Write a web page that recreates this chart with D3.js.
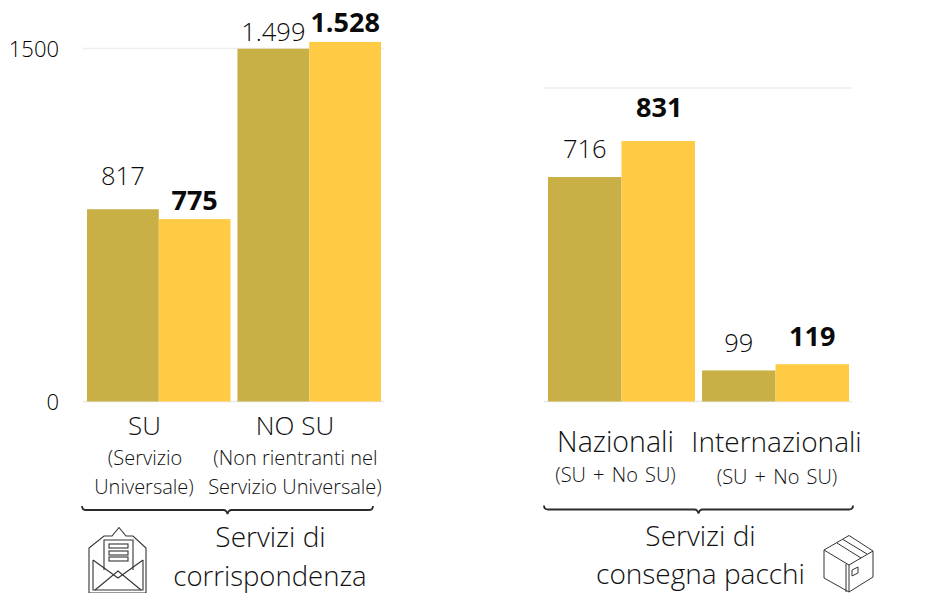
<!DOCTYPE html>
<html><head><meta charset="utf-8">
<script src="https://cdn.jsdelivr.net/npm/d3@7"></script>
<style>html,body{margin:0;padding:0;background:#fff}svg{display:block}text{font-family:"Open Sans",sans-serif;fill:#111;font-weight:300}</style>
</head><body><svg id="c" width="937" height="593"></svg>
<script>
const mailCategories=["SU","NO SU"];
const parcelCategories=["Nazionali","Internazionali"];
const seriesNames=["prev","curr"];
const mailPrev=[817,1499];
const mailCurr=[775,1528];
const parcelPrev=[716,99];
const parcelCurr=[831,119];
const seriesColors=["#C8AF46","#FFCB45"];
const yTicks=[0,1500];
const labelGaps={817:24,775:9,1499:8,1528:10,716:19.5,831:24,99:18,119:18.5};
const fmt=v=>v>=1000?String(v).replace(/(\d)(\d{3})$/,"$1.$2"):String(v);
const svg=d3.select("#c");
const base=401.5;

function panel(cats,prev,curr,xr,yScale,gridV){
  const x=d3.scaleBand().domain(cats).range(xr).paddingInner(0.046).paddingOuter(0);
  const xi=d3.scaleBand().domain(seriesNames).range([0,x.bandwidth()]);
  const gl=[xr[0]-4,xr[1]+3];
  svg.append("line").attr("x1",gl[0]).attr("x2",gl[1]).attr("y1",yScale(gridV)).attr("y2",yScale(gridV)).attr("stroke","#eeeeee").attr("stroke-width",1.3);
  svg.append("line").attr("x1",gl[0]).attr("x2",gl[1]).attr("y1",base).attr("y2",base).attr("stroke","#e8e8e8").attr("stroke-width",1.3);
  cats.forEach((c,i)=>{
    [prev[i],curr[i]].forEach((v,k)=>{
      const bx=x(c)+xi(seriesNames[k]);
      svg.append("rect").attr("x",bx).attr("y",yScale(v)).attr("width",xi.bandwidth()).attr("height",yScale(0)-yScale(v)).attr("fill",seriesColors[k]);
      svg.append("text").attr("x",bx+xi.bandwidth()/2+(v===831?1:0)).attr("y",yScale(v)-labelGaps[v]).attr("text-anchor","middle")
        .style("font-size",k?"27px":"25.5px").style("font-weight",k?700:300).style("fill",k?"#0a0a0a":"#0a0a0a").text(fmt(v));
    });
  });
}
const yL=d3.scaleLinear().domain([0,1500]).range([base,48.5]);
const yR=d3.scaleLinear().domain([0,1000]).range([base,88]);
panel(mailCategories,mailPrev,mailCurr,[87,381],yL,1500);
panel(parcelCategories,parcelPrev,parcelCurr,[548,849],yR,1000);

yTicks.forEach(t=>svg.append("text").attr("x",59).attr("y",yL(t)+8).attr("text-anchor","end").style("font-size","22px").style("fill","#000").text(t));

function txt(x,y,s,size,ws){const t=svg.append("text").attr("x",x).attr("y",y).attr("text-anchor","middle").style("font-size",size+"px").text(s);if(ws)t.style("word-spacing",ws+"px");}
txt(144.5,435,"SU",26);
txt(145,465,"(Servizio",20);
txt(144,494,"Universale)",20);
txt(295,435,"NO SU",26);
txt(295.5,465,"(Non rientranti nel",20);
txt(295,494,"Servizio Universale)",20);
txt(615.5,452,"Nazionali",28.5);
txt(615.5,482,"(SU + No SU)",20,2);
txt(776.5,452,"Internazionali",28);
txt(777,484,"(SU + No SU)",20,2);
txt(270.5,547,"Servizi di",28);
txt(270,586,"corrispondenza",27.5);
txt(700.5,546,"Servizi di",28);
txt(700.5,584,"consegna pacchi",28);

function brace(x0,x1,y){
  const m=(x0+x1)/2;
  svg.append("path").attr("fill","none").attr("stroke","#2b2b2b").attr("stroke-width",1.8)
    .attr("d",`M${x0},${y-4}Q${x0},${y} ${x0+4},${y}L${m-4},${y}Q${m-1},${y} ${m},${y+4}Q${m+1},${y} ${m+4},${y}L${x1-4},${y}Q${x1},${y} ${x1},${y-4}`);
}
brace(82,373,510);
brace(544,853,509.5);

// envelope icon
const ic=svg.append("g").attr("fill","none").attr("stroke","#333").attr("stroke-width",1.1);
ic.append("path").attr("d","M89,593V548L104,536L112,536L119,527.5L126,536L133,536L146,548V593Z");
ic.append("path").attr("d","M104,570V540H133V570");
ic.append("path").attr("d","M93,560L118,578L143,560M95,590L118,571L141,590");
ic.append("path").attr("d","M93,560V590H143V560");
[[109,544,19,4],[109,551,19,4],[109,557,19,4]].forEach(r=>ic.append("rect").attr("x",r[0]).attr("y",r[1]).attr("width",r[2]).attr("height",r[3]));
// box icon
const bx=svg.append("g").attr("fill","none").attr("stroke","#333").attr("stroke-width",1);
bx.append("path").attr("d","M824,550L849,535.5L873,551V577L849,592L824,578Z");
bx.append("path").attr("d","M824,550L849,565L873,551M849,565V592M846,564V592");
bx.append("path").attr("d","M837,543L861,558M843,539.5L867,554");
bx.append("path").attr("d","M852,570L858,567V573L852,576Z");
</script></body></html>
